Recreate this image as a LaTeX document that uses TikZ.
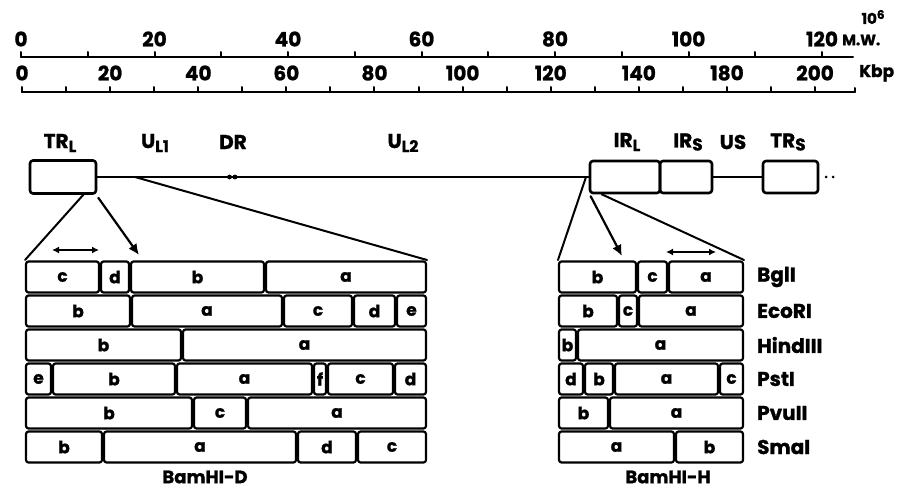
\documentclass[tikz,border=0pt]{standalone}
\usepackage{fontspec}
\setmainfont{Poppins}[BoldFeatures={FakeBold=1.2}]
\usetikzlibrary{arrows.meta}
\begin{document}
\begin{tikzpicture}[x=1pt,y=-1pt, line join=round, line cap=round,
  lbl/.style={font=\bfseries\fontsize{20}{20}\selectfont, inner sep=0pt},
  small/.style={font=\bfseries\fontsize{15}{15}\selectfont, inner sep=0pt},
  cellbox/.style={draw, line width=2.2pt, rounded corners=2.5pt, inner sep=0pt, font=\bfseries\fontsize{17}{17}\selectfont},
  seg/.style={draw, line width=2.6pt, rounded corners=3pt, inner sep=0pt},
  thk/.style={line width=2pt},
  arr/.style={line width=2.2pt, -{Latex[length=11pt,width=10pt]}},
  darr/.style={line width=2.2pt, {Latex[length=7pt,width=7pt]}-{Latex[length=7pt,width=7pt]}}]
\useasboundingbox (0,0) rectangle (898,492);

% ---- M.W. scale
\draw[thk] (21,57) -- (853,57);
\foreach \i in {0,...,12} \draw[thk] ({21+\i*66.75},57) -- ++(0,-5);
\foreach \v [count=\i from 0] in {0,20,40,60,80,100,120}
  \node[lbl] (mw\i) at ({21+\i*133.5},39) {\v};
\node[small, anchor=west] (mwu) at (842,40) {M.W.};
\node[small] (mwe) at (873,17) {10\raisebox{5pt}{\fontsize{12}{12}\selectfont 6}};

% ---- Kbp scale
\draw[thk] (22,92) -- (855,92);
\foreach \i in {0,...,18} \draw[thk] ({22+\i*44.06},92) -- ++(0,-5);
\draw[thk] (855,92) -- ++(0,-4);
\foreach \v [count=\i from 0] in {0,20,40,60,80,100,120,140,180,200}
  \node[lbl] (kb\i) at ({22+2*\i*44.06},73) {\v};
\node[lbl, font=\bfseries\fontsize{17}{17}\selectfont, anchor=west] (kbu) at (859,73) {Kbp};

% ---- genome
\node[seg, minimum width=66pt, minimum height=33pt] (TRL) at (63,177) {};
\node[seg, minimum width=70pt, minimum height=32pt] (IRL) at (625,177) {};
\node[seg, minimum width=52pt, minimum height=32pt] (IRS) at (686,177) {};
\node[seg, minimum width=55pt, minimum height=32pt] (TRS) at (790.5,177) {};
\draw[thk] (TRL.east) -- (IRL.west);
\draw[thk] (IRS.east) -- (TRS.west);
\fill (826,177) circle (1.5) (833,177) circle (1.5);
\fill (229.5,177) circle (2.4) (235,177) circle (2.4);

\node[lbl] (tTRL) at (60,143) {TR\raisebox{-4pt}{\fontsize{16}{16}\selectfont L}};
\node[lbl] (tUL1) at (155,143) {U\raisebox{-4pt}{\fontsize{16}{16}\selectfont L1}};
\node[lbl] (tDR) at (233,142) {DR};
\node[lbl] (tUL2) at (403,143) {U\raisebox{-4pt}{\fontsize{16}{16}\selectfont L2}};
\node[lbl] (tIRL) at (627,142) {IR\raisebox{-4pt}{\fontsize{16}{16}\selectfont L}};
\node[lbl] (tIRS) at (688,142) {IR\raisebox{-3pt}{\fontsize{17}{17}\selectfont S}};
\node[lbl] (tUS) at (733,142) {US};
\node[lbl] (tTRS) at (788,142) {TR\raisebox{-3pt}{\fontsize{17}{17}\selectfont S}};

% ---- expansion lines
\coordinate (Ltl) at (25,260);
\coordinate (Ltr) at (427,260);
\coordinate (Rtl) at (558,260);
\coordinate (Rtr) at (744,260);
\coordinate (lsplit) at (135,177);
\coordinate (rsplit) at (586,177);
\coordinate (larrow) at (139,255);
\coordinate (rarrow) at (622,256);
\coordinate (ld1) at (52,250);
\coordinate (ld2) at (99,250);
\coordinate (rd1) at (666,252);
\coordinate (rd2) at (716,252);
\draw[thk] ([xshift=-14pt]TRL.south east) -- (Ltl);
\draw[thk] (lsplit) -- (Ltr);
\draw[arr] ([xshift=1pt,yshift=-3pt]TRL.south east) -- (larrow);
\draw[darr] (ld1) -- (ld2);
\draw[thk] (rsplit) -- (Rtl);
\draw[arr] ([xshift=2pt,yshift=-2pt]IRL.south west) -- (rarrow);
\draw[thk] ([xshift=13pt]IRL.south west) -- (Rtr);
\draw[darr] (rd1) -- (rd2);

% ---- left table (BamHI-D)
\foreach \y/\cells [count=\r] in {
  260/{25/100/c,100/130/d,130/265/b,265/427/a},
  294/{25/131/b,131/283/a,283/353/c,353/396/d,396/427/e},
  328/{25/182/b,182/427/a},
  362/{25/52/e,52/176/b,176/313/a,313/327/f,327/394/c,394/427/d},
  396/{25/193/b,193/247/c,247/427/a},
  430/{25/103/b,103/297/a,297/357/d,357/427/c}} {
  \foreach \a/\b/\t [count=\i] in \cells {
    \pgfmathsetmacro\w{\b-\a-2}
    \node[cellbox, minimum width=\w pt, minimum height=31pt] (L\r-\i) at ({(\a+\b)/2},{\y+17}) {\t};
  }
}
% ---- right table (BamHI-H)
\foreach \y/\cells [count=\r] in {
  260/{558/637/b,637/668/c,668/744/a},
  294/{558/618/b,618/638/c,638/744/a},
  328/{558/577/b,577/744/a},
  362/{558/584/d,584/614/b,614/719/a,719/744/c},
  396/{558/609/b,609/744/a},
  430/{558/675/a,675/744/b}} {
  \foreach \a/\b/\t [count=\i] in \cells {
    \pgfmathsetmacro\w{\b-\a-2}
    \node[cellbox, minimum width=\w pt, minimum height=31pt] (R\r-\i) at ({(\a+\b)/2},{\y+17}) {\t};
  }
}

% ---- enzyme labels
\foreach \t [count=\r] in {BglI,EcoRI,HindIII,PstI,PvuII,SmaI}
  \node[lbl, anchor=west] (enz\r) at (757,{243+\r*34}) {\t};

\node[lbl, font=\bfseries\fontsize{18}{18}\selectfont] (capD) at (205,477) {BamHI-D};
\node[lbl, font=\bfseries\fontsize{18}{18}\selectfont] (capH) at (668,477) {BamHI-H};
\end{tikzpicture}
\end{document}
